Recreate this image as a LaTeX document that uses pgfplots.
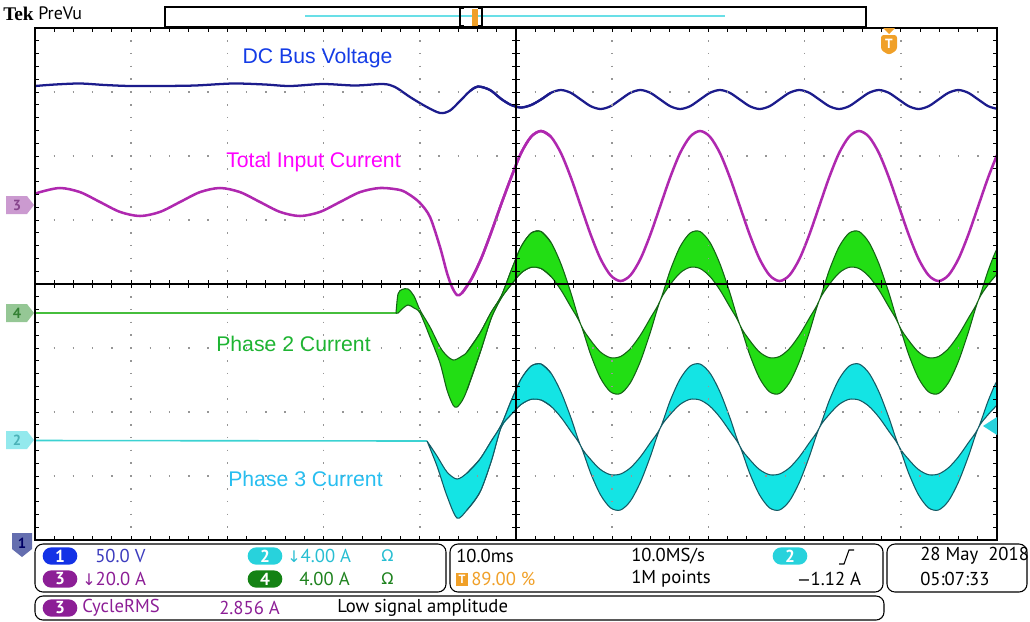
\documentclass[border=0pt]{standalone}
\usepackage{fontspec}
\setmainfont{Liberation Sans}
\newfontfamily\uifont{PT Sans}
\newfontfamily\symfont{DejaVu Sans}
\newfontfamily\tekfont{Liberation Serif}
\usepackage{pgfplots}
\pgfplotsset{compat=1.18}

\definecolor{bluetr}{RGB}{28,28,140}
\definecolor{magtr}{RGB}{175,40,175}
\definecolor{grfill}{RGB}{34,222,20}
\definecolor{gredge}{RGB}{20,100,20}
\definecolor{grline}{RGB}{70,190,60}
\definecolor{cyfill}{RGB}{20,228,228}
\definecolor{cyedge}{RGB}{20,90,100}
\definecolor{cyline}{RGB}{60,210,210}
\definecolor{gridc}{RGB}{150,150,150}
\definecolor{lblblue}{RGB}{20,60,230}
\definecolor{lblmag}{RGB}{255,0,255}
\definecolor{lblgreen}{RGB}{30,180,50}
\definecolor{lblcyan}{RGB}{40,190,240}
\definecolor{ch1}{RGB}{20,50,230}
\definecolor{ch2}{RGB}{40,210,220}
\definecolor{ch3}{RGB}{140,30,150}
\definecolor{ch4}{RGB}{20,130,20}
\definecolor{orng}{RGB}{240,160,40}
\definecolor{txtv}{RGB}{60,60,190}
\definecolor{txtc}{RGB}{40,190,210}
\definecolor{txtg}{RGB}{30,130,30}
\definecolor{ch1tag}{RGB}{100,110,175}

\begin{document}
\begin{tikzpicture}

% ---------- traces (x, y in screen pixels) ----------
\begin{axis}[at={(26.25pt,-21pt)}, anchor=north west, scale only axis,
  width=721.5pt, height=384pt, xmin=35, xmax=997, ymin=28, ymax=540,
  y dir=reverse, hide axis, clip=true, disabledatascaling]
% DC bus voltage
\addplot[bluetr, line width=1.7pt, smooth, no markers] coordinates {
(35,86) (55,84.5) (80,83.5) (105,85) (130,86) (160,86) (195,85.5) (233,83.5)
(265,84.5) (290,86) (323,84) (355,85.5) (383,84) (395,87) (410,97) (425,106)
(440,113) (450,110.5) (460,101) (470,91) (478,86.5) (490,90) (501.25,99)
(511.2,105) (521.1,107.5) (531.1,105) (541,99.5) (550.9,92.8) (560.9,90)
(570.8,92.8) (580.75,99.5) (590.7,106.2) (600.6,109) (610.6,106.2) (620.5,99.5)
(630.4,92.8) (640.4,90) (650.3,92.8) (660.25,99.5) (670.2,106.2) (680.1,109)
(690.1,106.2) (700,99.5) (709.9,92.8) (719.9,90) (729.8,92.8) (739.75,99.5)
(749.7,106.2) (759.6,109) (769.6,106.2) (779.5,99.5) (789.4,92.8) (799.4,90)
(809.3,92.8) (819.25,99.5) (829.2,106.2) (839.1,109) (849.1,106.2) (859,99.5)
(868.9,92.8) (878.9,90) (888.8,92.8) (898.75,99.5) (908.7,106.2) (918.6,109)
(928.6,106.2) (938.5,99.5) (948.4,92.8) (958.4,90) (968.3,92.8) (978.25,99.5)
(988.2,106.2) (997,108.8)
};
\addplot[bluetr, line width=1.7pt, smooth, no markers] coordinates {
(470,91) (478,86.5) (490,90) (501.25,99) (511.2,105) (521.1,107.5) (531.1,105)
(541,99.5) (550.9,92.8)
};
% Total input current
\addplot[magtr, line width=1.9pt, smooth, no markers] coordinates {
(35,194.2) (40,192.1) (60,188) (80,192.1) (100,202) (120,211.9) (140,216)
(160,211.9) (180,202) (200,192.1) (220,188) (240,192.1) (260,202) (280,211.9)
(300,216) (320,211.9) (340,202) (360,192.1) (380,188) (400,190) (410,195)
(420,203) (430,217) (440,247) (447,273) (452,287) (457,295) (462,293)
(471.4,279) (481.4,258) (491.3,232) (501.25,204) (511.2,177.3) (521.1,153)
(531.1,136.7) (541,131) (550.9,136.7) (560.9,153) (570.8,177.3) (580.75,206)
(590.7,234.7) (600.6,259) (610.6,275.3) (620.5,281) (630.4,275.3) (640.4,259)
(650.3,234.7) (660.25,206) (670.2,177.3) (680.1,153) (690.1,136.7) (700,131)
(709.9,136.7) (719.9,153) (729.8,177.3) (739.75,206) (749.7,234.7) (759.6,259)
(769.6,275.3) (779.5,281) (789.4,275.3) (799.4,259) (809.3,234.7) (819.25,206)
(829.2,177.3) (839.1,153) (849.1,136.7) (859,131) (868.9,136.7) (878.9,153)
(888.8,177.3) (898.75,206) (908.7,234.7) (918.6,259) (928.6,275.3) (938.5,281)
(948.4,275.3) (958.4,259) (968.3,234.7) (978.25,206) (988.2,177.3) (997,155)
};
\addplot[magtr, line width=1.9pt, smooth, no markers] coordinates {
(462,293) (471.4,279) (481.4,258) (491.3,232) (501.25,204) (511.2,177.3)
(521.1,153) (531.1,136.7) (541,131) (550.9,136.7)
};
% Phase 2 current: flat part, then band (upper edge forward, lower edge back)
\addplot[grline, line width=1.2pt, no markers] coordinates {(35,313) (397,313)};
\addplot[fill=grfill, draw=gredge, line width=0.8pt, smooth, no markers] coordinates {
(396,313) (398,294) (402,289.5) (408,289) (414,296) (420,310) (430,327) (440,347)
(447,356) (453,360) (457,359) (462,356) (467,352) (480,333) (491.3,312)
(501.25,296) (511.2,270.4) (521.1,246.7) (531.1,233.1) (541,231.5) (550.9,242.3)
(560.9,263.7) (570.8,292.6) (580.75,324.5) (590.7,340.4) (600.6,352.1)
(610.6,357.7) (620.5,356.5) (630.4,348.6) (640.4,335.1) (650.3,318.2)
(660.25,300.5) (670.2,270.4) (680.1,246.7) (690.1,233.1) (700,231.5)
(709.9,242.3) (719.9,263.7) (729.8,292.6) (739.75,324.5) (749.7,340.4)
(759.6,352.1) (769.6,357.7) (779.5,356.5) (789.4,348.6) (799.4,335.1)
(809.3,318.2) (819.25,300.5) (829.2,270.4) (839.1,246.7) (849.1,233.1)
(859,231.5) (868.9,242.3) (878.9,263.7) (888.8,292.6) (898.75,324.5)
(908.7,340.4) (918.6,352.1) (928.6,357.7) (938.5,356.5) (948.4,348.6)
(958.4,335.1) (968.3,318.2) (978.25,300.5) (988.2,270.4) (997,249)
(1000,255) (1000,268)
(997,274) (988.2,284.6) (978.25,300.5) (968.3,332.4) (958.4,361.3) (948.4,382.7)
(938.5,393.5) (928.6,391.9) (918.6,378.3) (908.7,354.6) (898.75,324.5)
(888.8,306.8) (878.9,289.9) (868.9,276.4) (859,268.5) (849.1,267.3)
(839.1,272.9) (829.2,284.6) (819.25,300.5) (809.3,332.4) (799.4,361.3)
(789.4,382.7) (779.5,393.5) (769.6,391.9) (759.6,378.3) (749.7,354.6)
(739.75,324.5) (729.8,306.8) (719.9,289.9) (709.9,276.4) (700,268.5)
(690.1,267.3) (680.1,272.9) (670.2,284.6) (660.25,300.5) (650.3,332.4)
(640.4,361.3) (630.4,382.7) (620.5,393.5) (610.6,391.9) (600.6,378.3)
(590.7,354.6) (580.75,324.5) (570.8,306.8) (560.9,289.9) (550.9,276.4)
(541,268.5) (531.1,267.3) (521.1,272.9) (511.2,284.6) (501.25,298)
(491.3,318) (480,353) (467,390) (462,401) (457,407) (453,405) (447,390)
(440,363) (430,337) (420,313) (414,308) (408,305) (402,309) (398,313) (396,313)
};
% short overlay of the band around the step (fill, then its two edges)
\addplot[fill=grfill, draw=none, no markers] coordinates {
(480,333) (491.3,312) (501.25,296) (511.2,270.4) (521.1,246.7) (531.1,233.1)
(541,231.5) (541,268.5) (531.1,267.3) (521.1,272.9) (511.2,284.6) (501.25,298)
(491.3,318) (480,353)
};
\addplot[gredge, line width=0.8pt, smooth, no markers] coordinates {
(467,352) (480,333) (491.3,312) (501.25,296) (511.2,270.4) (521.1,246.7)
(531.1,233.1) (541,231.5) (550.9,242.3)
};
\addplot[gredge, line width=0.8pt, smooth, no markers] coordinates {
(467,390) (480,353) (491.3,318) (501.25,298) (511.2,284.6) (521.1,272.9)
(531.1,267.3) (541,268.5) (550.9,276.4)
};
% Phase 3 current
\addplot[cyline, line width=1.2pt, no markers] coordinates {(35,440.5) (427,441)};
\addplot[fill=cyfill, draw=cyedge, line width=0.8pt, smooth, no markers] coordinates {
(427,441) (437,456) (447,472) (457,479) (467,473) (480,459) (491.3,441)
(501.25,425) (511.2,400.7) (521.1,379) (531.1,366.1) (541,364) (550.9,373)
(560.9,391.8) (570.8,417.4) (580.75,446) (590.7,459.5) (600.6,469.6)
(610.6,474.7) (620.5,474) (630.4,467.8) (640.4,456.8) (650.3,442.8)
(660.25,428) (670.2,400.7) (680.1,379) (690.1,366.1) (700,364) (709.9,373)
(719.9,391.8) (729.8,417.4) (739.75,446) (749.7,459.5) (759.6,469.6)
(769.6,474.7) (779.5,474) (789.4,467.8) (799.4,456.8) (809.3,442.8)
(819.25,428) (829.2,400.7) (839.1,379) (849.1,366.1) (859,364) (868.9,373)
(878.9,391.8) (888.8,417.4) (898.75,446) (908.7,459.5) (918.6,469.6)
(928.6,474.7) (938.5,474) (948.4,467.8) (958.4,456.8) (968.3,442.8)
(978.25,428) (988.2,400.7) (997,381)
(1000,386) (1000,400)
(997,405) (988.2,414.5) (978.25,428) (968.3,456.6) (958.4,482.2) (948.4,501)
(938.5,510) (928.6,507.9) (918.6,495) (908.7,473.3) (898.75,446) (888.8,431.2)
(878.9,417.2) (868.9,406.2) (859,400) (849.1,399.3) (839.1,404.4) (829.2,414.5)
(819.25,428) (809.3,456.6) (799.4,482.2) (789.4,501) (779.5,510) (769.6,507.9)
(759.6,495) (749.7,473.3) (739.75,446) (729.8,431.2) (719.9,417.2)
(709.9,406.2) (700,400) (690.1,399.3) (680.1,404.4) (670.2,414.5)
(660.25,428) (650.3,456.6) (640.4,482.2) (630.4,501) (620.5,510) (610.6,507.9)
(600.6,495) (590.7,473.3) (580.75,446) (570.8,431.2) (560.9,417.2)
(550.9,406.2) (541,400) (531.1,399.3) (521.1,404.4) (511.2,414.5)
(501.25,427) (491.3,461) (480,492) (467,510) (457,518) (447,496) (437,466)
(427,441)
};
\addplot[fill=cyfill, draw=none, no markers] coordinates {
(480,459) (491.3,441) (501.25,425) (511.2,400.7) (521.1,379) (531.1,366.1)
(541,364) (541,400) (531.1,399.3) (521.1,404.4) (511.2,414.5) (501.25,427)
(491.3,461) (480,492)
};
\addplot[cyedge, line width=0.8pt, smooth, no markers] coordinates {
(467,473) (480,459) (491.3,441) (501.25,425) (511.2,400.7) (521.1,379)
(531.1,366.1) (541,364) (550.9,373)
};
\addplot[cyedge, line width=0.8pt, smooth, no markers] coordinates {
(467,510) (480,492) (491.3,461) (501.25,427) (511.2,414.5) (521.1,404.4)
(531.1,399.3) (541,400) (550.9,406.2)
};
\end{axis}

% ---------- graticule (over traces, as on the scope) ----------
\begin{scope}[x=0.75pt,y=-0.75pt]
\foreach \gi in {1,2,3,4,6,7,8,9}
  \draw[gridc, line width=1.1pt, dash pattern=on 1.1pt off 8.5pt, dash phase=0.55pt]
    ({35+96.2*\gi},28) -- ({35+96.2*\gi},540);
\foreach \gj in {1,2,3,5,6,7}
  \draw[gridc, line width=1.1pt, dash pattern=on 1.1pt off 13.33pt, dash phase=0.55pt]
    (35,{28+64*\gj}) -- (997,{28+64*\gj});
\draw[black, line width=0.9pt] (35,284) -- (997,284);
\draw[black, line width=0.9pt] (516,28) -- (516,540);
\foreach \gm in {1,...,49} {
  \draw[black, line width=0.7pt] ({35+19.24*\gm},280) -- ({35+19.24*\gm},288);
  \draw[black, line width=0.7pt] ({35+19.24*\gm},28) -- ({35+19.24*\gm},32);
  \draw[black, line width=0.7pt] ({35+19.24*\gm},536) -- ({35+19.24*\gm},540);
}
\foreach \gm in {1,...,39} {
  \draw[black, line width=0.7pt] (512,{28+12.8*\gm}) -- (520,{28+12.8*\gm});
  \draw[black, line width=0.7pt] (35,{28+12.8*\gm}) -- (39,{28+12.8*\gm});
  \draw[black, line width=0.7pt] (993,{28+12.8*\gm}) -- (997,{28+12.8*\gm});
}

% ---------- frame, labels, screen furniture ----------
\draw[black, line width=1.4pt] (35,28) rectangle (997,540);
\fill[ch2] (997,417) -- (983,426) -- (997,435) -- cycle;

\node[lblblue, font=\fontsize{15.9}{18}\selectfont] at (317.5,58) {DC Bus Voltage};
\node[lblmag, font=\fontsize{15.9}{18}\selectfont] at (313.5,162) {Total Input Current};
\node[lblgreen, font=\fontsize{15.9}{18}\selectfont] at (293.5,344) {Phase 2 Current};
\node[lblcyan, font=\fontsize{15.9}{18}\selectfont] at (305.5,479) {Phase 3 Current};

% top bar
\node[anchor=west, inner sep=0, font=\tekfont\bfseries\fontsize{14.5}{16}\selectfont] at (3,14) {Tek};
\node[anchor=west, inner sep=0, font=\uifont\fontsize{13.5}{15}\selectfont] at (38,13.5) {PreVu};
\draw[black, line width=1.2pt] (165,7) rectangle (866,27);
\draw[ch2!70!white, line width=1.6pt] (305,16) -- (725,16);
\fill[orng] (472,9) rectangle (478,26);
\draw[black, line width=1.6pt] (464,8) -- (460,8) -- (460,26) -- (464,26);
\draw[black, line width=1.6pt] (478,8) -- (482,8) -- (482,26) -- (478,26);
% trigger position marker
\fill[orng] (883,28) -- (895,28) -- (889,34) -- cycle;
\fill[orng, rounded corners=2pt] (881,35) -- (897,35) -- (897,50) -- (889,55) -- (881,50) -- cycle;
\node[white, font=\uifont\bfseries\fontsize{10}{11}\selectfont] at (889,44) {T};

% channel tags on the left
\fill[ch3!45!white] (6,196) -- (27,196) -- (34,205) -- (27,214) -- (6,214) -- cycle;
\node[ch3!60!gray, font=\uifont\bfseries\fontsize{11}{12}\selectfont] at (17,205) {3};
\fill[ch4!45!white] (6,304) -- (27,304) -- (34,313) -- (27,322) -- (6,322) -- cycle;
\node[ch4!70!gray, font=\uifont\bfseries\fontsize{11}{12}\selectfont] at (17,313) {4};
\fill[ch2!50!white] (6,431) -- (27,431) -- (34,440) -- (27,449) -- (6,449) -- cycle;
\node[ch2!60!gray, font=\uifont\bfseries\fontsize{11}{12}\selectfont] at (17,440) {2};
\fill[ch1tag] (12,533) -- (32,533) -- (32,549) -- (22,557) -- (12,549) -- cycle;
\node[blue!40!black, font=\uifont\bfseries\fontsize{11}{12}\selectfont] at (22,543) {1};

% bottom panels
\draw[black, line width=0.8pt, rounded corners=6pt] (35,544) rectangle (446,592);
\draw[black, line width=0.8pt, rounded corners=6pt] (450,544) rectangle (883,592);
\draw[black, line width=0.8pt, rounded corners=6pt] (887,544) rectangle (1027,592);
\draw[black, line width=0.8pt, rounded corners=6pt] (35,596) rectangle (884,620);

\tikzset{badge/.style={rounded corners=6.5pt, minimum width=26pt, minimum height=13pt,
  inner sep=0pt, text=white, font=\uifont\bfseries\fontsize{13}{14}\selectfont},
  val/.style={anchor=west, inner sep=0pt, font=\uifont\fontsize{14}{15}\selectfont}}
\node[badge, fill=ch1] at (60,556) {1};
\node[val, txtv] at (95,556) {50.0 V};
\node[badge, fill=ch2] at (265,556) {2};
\node[val, txtc] at (287,556) {{\symfont\fontsize{12}{14}\selectfont ↓}4.00 A};
\node[val, txtc] at (381,556) {\symfont\fontsize{12}{14}\selectfont Ω};
\node[badge, fill=ch3] at (60,579) {3};
\node[val, ch3] at (82,579) {{\symfont\fontsize{12}{14}\selectfont ↓}20.0 A};
\node[badge, fill=ch4] at (265,579) {4};
\node[val, txtg] at (299,579) {4.00 A};
\node[val, txtg] at (381,579) {\symfont\fontsize{12}{14}\selectfont Ω};

\node[val, black] at (456,556) {10.0ms};
\fill[orng] (456,573) rectangle (468,586);
\node[white, font=\uifont\bfseries\fontsize{9}{10}\selectfont] at (462,579.5) {T};
\node[val, orng] at (471,579) {89.00 \%};
\node[val, black] at (631,556) {10.0MS/s};
\node[val, black] at (631,579) {1M points};
\node[badge, fill=ch2] at (790,556) {2};
\draw[black, line width=0.8pt] (839,564) -- (844,564) -- (849,550) -- (854,550);
\node[val, black] at (797,579) {{\symfont\fontsize{12}{14}\selectfont −}1.12 A};
\node[val, black] at (920,556) {28 May\ \ 2018};
\node[val, black] at (920,579) {05:07:33};

\node[badge, fill=ch3] at (60,608) {3};
\node[val, ch3] at (82,608) {CycleRMS};
\node[val, ch3] at (219,608) {2.856 A};
\node[val, black] at (337,608) {Low signal amplitude};
\end{scope}

\pgfresetboundingbox
\path[use as bounding box] (0,0) rectangle (772.5pt,-465.75pt);
\end{tikzpicture}
\end{document}
